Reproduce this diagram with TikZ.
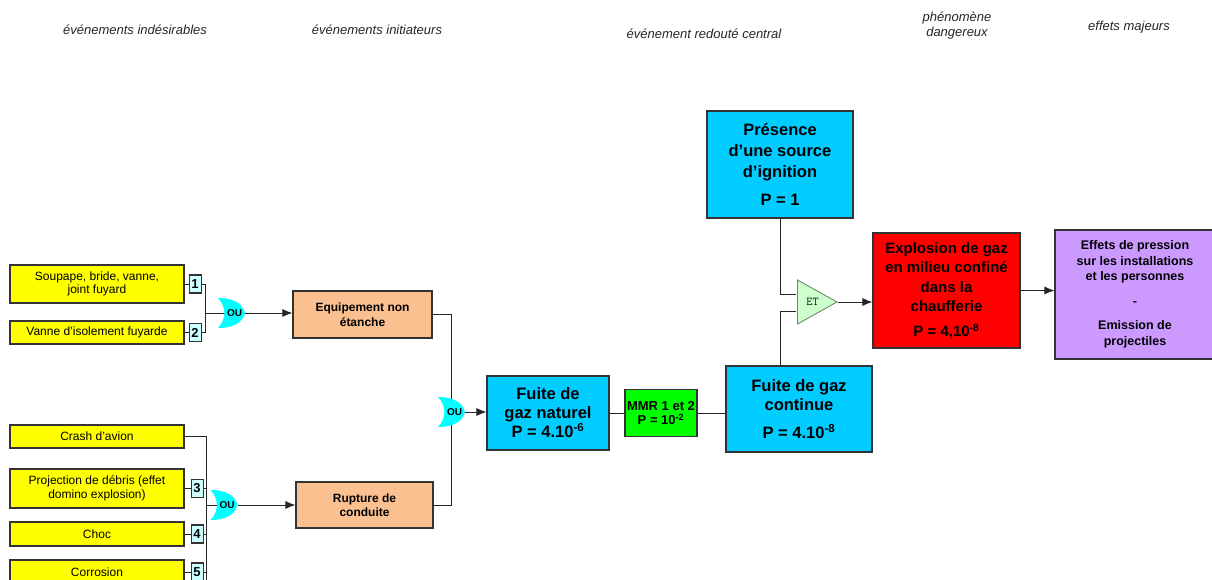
\documentclass[tikz,border=0pt]{standalone}
\usepackage{fontspec}
\setmainfont{Liberation Sans}
\usepackage{tikz}
\usetikzlibrary{arrows.meta,positioning,backgrounds}
\definecolor{EvYellow}{RGB}{255,255,0}
\definecolor{NumCyan}{RGB}{204,255,255}
\definecolor{InitPeach}{RGB}{250,192,144}
\definecolor{CentralBlue}{RGB}{0,204,255}
\definecolor{BarrierGreen}{RGB}{0,255,0}
\definecolor{PhenRed}{RGB}{255,0,0}
\definecolor{EffectLilac}{RGB}{204,153,255}
\definecolor{GateCyan}{RGB}{0,255,255}
\definecolor{GateGreen}{RGB}{204,255,204}
\definecolor{GateEdge}{RGB}{110,140,110}
% gate outlines, drawn round a node's centre
\newcommand{\oushape}[1]{\fill[GateCyan, shift={(#1.center)}]
  (-13.5pt,15pt) .. controls (3pt,15pt) and (11pt,9pt) .. (13.5pt,0pt)
  .. controls (11pt,-9pt) and (3pt,-15pt) .. (-13.5pt,-15pt)
  .. controls (-5pt,-6pt) and (-5pt,6pt) .. cycle;}
\newcommand{\etshape}[1]{\filldraw[fill=GateGreen, draw=GateEdge, line width=0.9pt, shift={(#1.center)}]
  (-19.5pt,22pt) -- (20pt,0pt) -- (-19.5pt,-22pt) -- cycle;}

\begin{document}
\begin{tikzpicture}[x=1pt, y=1pt,
  head/.style={font=\itshape\fontsize{13}{15}\selectfont, align=center, text=black!85},
  anybox/.style={draw=black!80, line width=1.1pt, align=center, inner sep=1pt},
  evbox/.style={anybox, fill=EvYellow, minimum width=174pt, font=\fontsize{12}{13.5}\selectfont},
  numbox/.style={anybox, fill=NumCyan, minimum width=12pt, minimum height=18pt, inner sep=0pt, font=\bfseries\fontsize{13}{14}\selectfont},
  initbox/.style={anybox, fill=InitPeach, font=\bfseries\fontsize{12}{14.5}\selectfont},
  centralbox/.style={anybox, fill=CentralBlue, font=\bfseries\fontsize{16.5}{19}\selectfont},
  barrbox/.style={anybox, fill=BarrierGreen, font=\bfseries\fontsize{13}{14}\selectfont},
  phenbox/.style={anybox, fill=PhenRed, font=\bfseries\fontsize{15}{19.5}\selectfont},
  effbox/.style={anybox, fill=EffectLilac, font=\bfseries\fontsize{12.5}{15.5}\selectfont},
  ougate/.style={minimum width=27pt, minimum height=30pt, inner sep=0pt, font=\bfseries\fontsize{10}{10}\selectfont},
  etgate/.style={minimum width=42pt, minimum height=46pt, inner sep=0pt, font=\ttfamily\fontsize{12}{12}\selectfont, text=black!90},
  conn/.style={line width=0.9pt, black!85},
  arr/.style={conn, -{Latex[length=10pt,width=8pt]}}]
\useasboundingbox (0,0) rectangle (1212,580);

% column headings
\node[head] (h1) at (135,550) {événements indésirables};
\node[head] (h2) at (377,550) {événements initiateurs};
\node[head] (h3) at (704,546) {événement redouté central};
\node[head] (h4) at (957,554) {phénomène\\ dangereux};
\node[head] (h5) at (1129,553) {effets majeurs};

% evenements indesirables
\node[evbox, minimum height=38pt] (soupape) at (97,296) {Soupape, bride, vanne,\\ joint fuyard};
\node[evbox, minimum height=23pt] (vanne) at (97,247.5) {Vanne d'isolement fuyarde};
\node[evbox, minimum height=23pt] (crash) at (97,143.5) {Crash d'avion};
\node[evbox, minimum height=39pt] (debris) at (97,91.5) {Projection de débris (effet\\ domino explosion)};
\node[evbox, minimum height=24pt] (choc) at (97,46) {Choc};
\node[evbox, minimum height=24pt] (corrosion) at (97,8) {Corrosion};

\node[numbox, right=4pt of soupape] (n1) {1};
\node[numbox, right=4pt of vanne] (n2) {2};
\node[numbox, right=6pt of debris] (n3) {3};
\node[numbox, right=6pt of choc] (n4) {4};
\node[numbox, right=6pt of corrosion] (n5) {5};

% portes OU
\node[ougate] (ou1) at (231.5,267) {\hspace*{6pt}OU};
\node[ougate] (ou2) at (224,75) {\hspace*{6pt}OU};
\node[ougate] (ou3) at (451.5,168) {\hspace*{6pt}OU};
\coordinate (bus1) at (205,267);
\coordinate (bus2) at (206,75);
\coordinate (bus2end) at (206,-10);

% evenements initiateurs
\node[initbox, minimum width=139pt, minimum height=47pt] (equip) at (362.5,265.5) {Equipement non\\ étanche};
\node[initbox, minimum width=137pt, minimum height=46pt] (rupture) at (364.5,75) {Rupture de\\ conduite};

% evenement redoute central
\node[centralbox, minimum width=122pt, minimum height=74pt] (fuite) at (548,167) {Fuite de\\ gaz naturel\\ P = 4.10\textsuperscript{-6}};
\node[barrbox, minimum width=72pt, minimum height=47pt] (mmr) at (661,167) {MMR 1 et 2\\ P = 10\textsuperscript{-2}};
\node[centralbox, minimum width=146pt, minimum height=86pt] (continue) at (799,171) {Fuite de gaz\\ continue\\[9pt] P = 4.10\textsuperscript{-8}};
\node[centralbox, minimum width=146pt, minimum height=107pt, font=\bfseries\fontsize{16.5}{21}\selectfont] (source) at (780,415.5) {Présence\\ d’une source\\ d’ignition\\[7pt] P = 1};
\node[etgate] (et) at (817,278) {ET\hspace*{9pt}};

% phenomene dangereux et effets
\node[phenbox, minimum width=147pt, minimum height=115pt] (explosion) at (946.5,289.5) {Explosion de gaz\\ en milieu confiné\\ dans la\\ chaufferie\\[5pt] P = 4,10\textsuperscript{-8}};
\node[effbox, minimum width=160pt, minimum height=129pt] (effets) at (1135,285.5) {Effets de pression\\ sur les installations\\ et les personnes\\[9pt] -\\[9pt] Emission de\\ projectiles};

\begin{scope}[on background layer]
\draw[conn] (soupape) -- (n1);
\draw[conn] (vanne) -- (n2);
\draw[conn] (n1.east) -| (bus1) -- (ou1.center);
\draw[conn] (n2.east) -| (bus1);
\draw[conn] (crash.east) -| (bus2end);
\draw[conn] (debris) -- (n3);
\draw[conn] (choc) -- (n4);
\draw[conn] (corrosion) -- (n5);
\draw[conn] (n3.east) -- (n3.east -| bus2);
\draw[conn] (n4.east) -- (n4.east -| bus2);
\draw[conn] (n5.east) -- (n5.east -| bus2);
\draw[conn] (bus2) -- (ou2.center);
\draw[conn] (equip.east) -| (ou3.center) |- (rupture.east);
\draw[conn] (fuite) -- (mmr);
\draw[conn] (mmr.east) -- (mmr.east -| continue.west);
\draw[conn] (source.south) |- (et.160);
\draw[conn] (continue.north -| source.south) |- (et.205);
% gates over their inputs
\oushape{ou1}
\oushape{ou2}
\oushape{ou3}
\etshape{et}
\end{scope}

\draw[arr] (ou1.east) -- (ou1.east -| equip.west);
\draw[arr] (ou2.east) -- (ou2.east -| rupture.west);
\draw[arr] (ou3.east) -- (ou3.east -| fuite.west);
\draw[arr] (et.east) -- (et.east -| explosion.west);
\draw[arr] (explosion.east) -- (explosion.east -| effets.west);
\end{tikzpicture}
\end{document}
